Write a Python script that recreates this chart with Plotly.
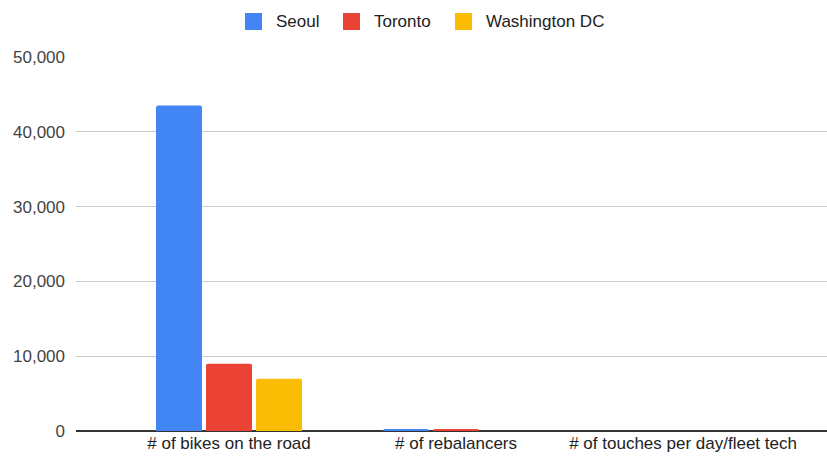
import plotly.graph_objects as go

# Fleet comparison data
categories = ["# of bikes on the road", "# of rebalancers", "# of touches per day/fleet tech"]
cities = ["Seoul", "Toronto", "Washington DC"]
seoul = [43500, 280, 0]
toronto = [9000, 270, 0]
washington = [7000, 0, 0]
series_values = [seoul, toronto, washington]
colors = ["#4285F4", "#EA4335", "#FBBC04"]
y_ticks = [0, 10000, 20000, 30000, 40000, 50000]

FONT = "Liberation Sans, Arial, sans-serif"
W, H = 827, 459
PLOT_L, PLOT_R, PLOT_T, PLOT_B = 76, 827, 57, 431

fig = go.Figure()
for name, vals, col in zip(cities, series_values, colors):
    fig.add_trace(go.Bar(
        name=name, x=list(range(len(categories))), y=vals,
        marker=dict(color=col, line=dict(width=0), cornerradius=2),
        showlegend=False,
    ))


def px_x(px):
    return (px - PLOT_L) / (PLOT_R - PLOT_L)


def px_y(py):
    return (PLOT_B - py) / (PLOT_B - PLOT_T)


# Legend row across the top: coloured squares with city names
legend_x = [245, 343, 455]
for name, col, lx in zip(cities, colors, legend_x):
    fig.add_shape(type="rect", xref="paper", yref="paper",
                  x0=px_x(lx), x1=px_x(lx + 17),
                  y0=px_y(30), y1=px_y(13),
                  fillcolor=col, line=dict(width=0))
    fig.add_annotation(xref="paper", yref="paper",
                       x=px_x(lx + 29), y=px_y(21.5),
                       xanchor="left", yanchor="middle", showarrow=False,
                       text=name, font=dict(family=FONT, size=17, color="#222222"))

fig.update_layout(
    width=W, height=H,
    margin=dict(l=PLOT_L, r=W - PLOT_R, t=PLOT_T, b=H - PLOT_B, pad=0),
    paper_bgcolor="white", plot_bgcolor="white",
    barmode="group", bargap=0.339, bargroupgap=0.08,
    font=dict(family=FONT, size=17, color="#444444"),
    xaxis=dict(
        range=[-0.674, 2.634],
        tickmode="array", tickvals=list(range(len(categories))), ticktext=categories,
        showgrid=False, zeroline=False, showline=False, ticks="",
        tickfont=dict(size=17, color="#222222"),
    ),
    yaxis=dict(
        range=[0, 50000], tickvals=y_ticks, tickformat=",d",
        showgrid=True, gridcolor="#cccccc", gridwidth=1,
        zeroline=True, zerolinecolor="#333333", zerolinewidth=1.5,
        showline=False, ticks="", ticklabelstandoff=10,
        tickfont=dict(size=17, color="#444444"),
    ),
)

fig.write_html("out.html")
